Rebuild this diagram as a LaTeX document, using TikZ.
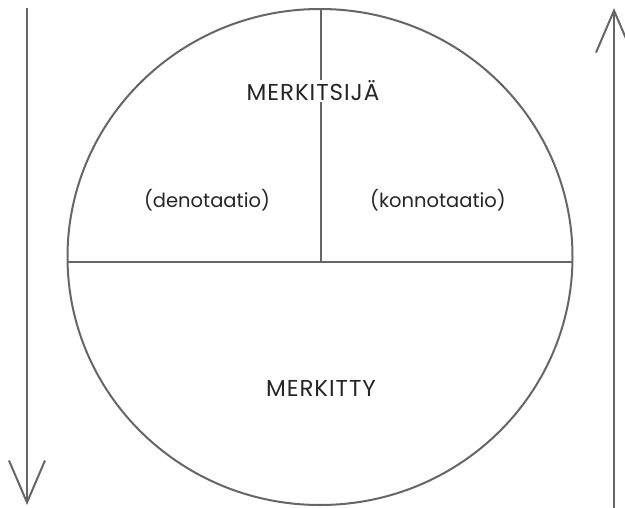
\documentclass[tikz,border=0pt]{standalone}
\usepackage{fontspec}
\setmainfont{Poppins}
\newfontfamily\capsfont[LetterSpace=4]{Poppins}
\usetikzlibrary{arrows.meta}
\colorlet{linegray}{black!60!white}

\begin{document}
\begin{tikzpicture}[x=1pt,y=-1pt,line width=2pt,draw=linegray,
  label/.style={font=\fontsize{19.5}{22}\selectfont,text=black!85},
  caplabel/.style={font=\capsfont\fontsize{23}{26}\selectfont,text=black!85},
  barb/.style={-{Straight Barb[length=42pt,width=36pt,line width=2pt]}}]

      \useasboundingbox (0,0) rectangle (625,507);

      % circle and its divisions
      \draw (320,257) ellipse (252.5 and 248);
      \coordinate (cl) at (67.5,262);
      \coordinate (cr) at (572.5,262);
      \coordinate (ct) at (321,9);
      \coordinate (cm) at (321,262);
      \draw (cl) -- (cr);
      \draw (ct) -- (cm);

      \node[caplabel,fill=white,inner sep=1pt] (merkitsija) at (313,91) {MERKITSIJÄ};
      \node[label] (denotaatio) at (207,200) {(denotaatio)};
      \node[label] (konnotaatio) at (438,200) {(konnotaatio)};
      \node[caplabel] (merkitty) at (321,388) {MERKITTY};

      % side arrows
      \coordinate (ltop) at (27,8);
      \coordinate (lbot) at (27,505);
      \coordinate (rbot) at (614,510);
      \coordinate (rtop) at (614,8);
      \draw [barb] (ltop) -- (lbot);
      \draw [barb] (rbot) -- (rtop);

\end{tikzpicture}
\end{document}
